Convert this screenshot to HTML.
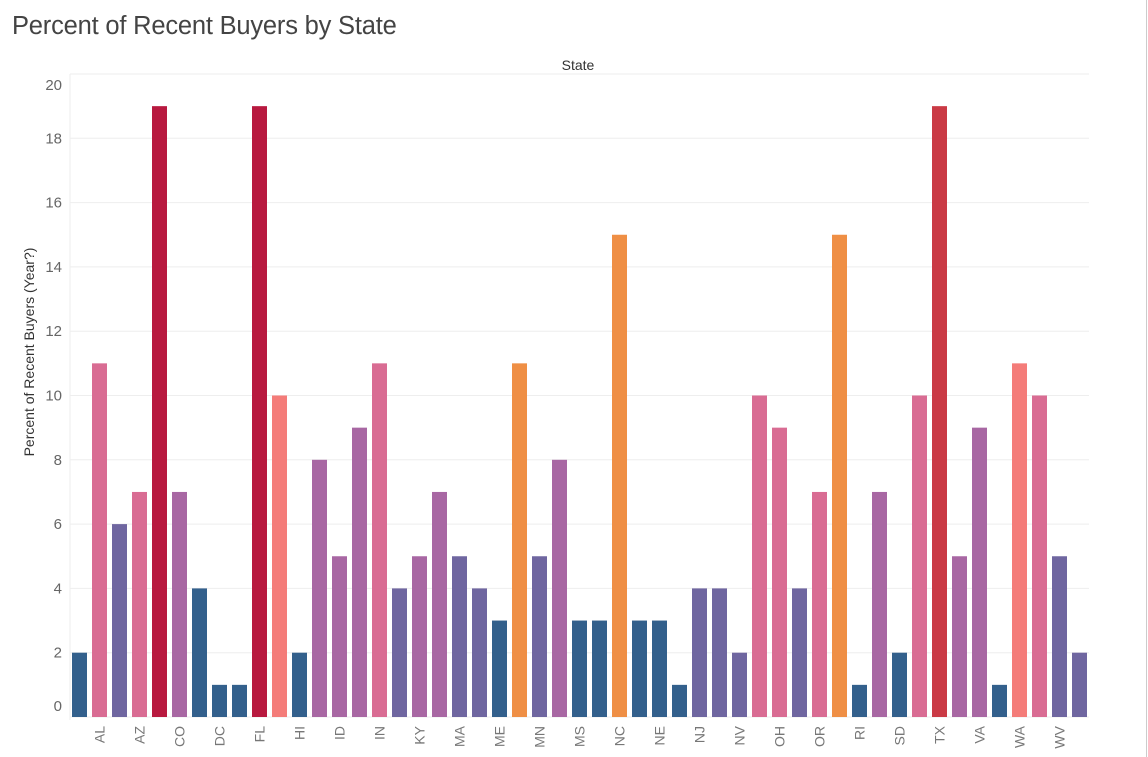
<!DOCTYPE html>
<html><head><meta charset="utf-8">
<style>
body{margin:0;background:#fff;width:1148px;height:757px;overflow:hidden;font-family:"Liberation Sans",sans-serif;}
#title{position:absolute;left:12px;top:12px;font-size:25.5px;color:#444;font-weight:300;letter-spacing:-0.2px;}
#edge{position:absolute;left:1146px;top:0;width:1px;height:757px;background:#ccc;}
</style></head><body>
<div id="title">Percent of Recent Buyers by State</div>
<div id="edge"></div>
<svg id="chart" width="1148" height="757" style="position:absolute;left:0;top:0"></svg>
<script>
const states=["AK","AL","AR","AZ","CA","CO","CT","DC","DE","FL","GA","HI","IA","ID","IL","IN","KS","KY","LA","MA","MD","ME","MI","MN","MO","MS","MT","NC","ND","NE","NH","NJ","NM","NV","NY","OH","OK","OR","PA","RI","SC","SD","TN","TX","UT","VA","VT","WA","WI","WV","WY"];
const values=[2,11,6,7,19,7,4,1,1,19,10,2,8,5,9,11,4,5,7,5,4,3,11,5,8,3,3,15,3,3,1,4,4,2,10,9,4,7,15,1,7,2,10,19,5,9,1,11,10,5,2];
const colorGroups=["b","p","i","p","c","m","b","b","b","c","s","b","m","m","m","p","i","m","m","i","i","b","o","i","m","b","b","o","b","b","b","i","i","i","p","p","i","p","o","b","m","b","p","r","m","m","b","s","p","i","i"];
const yTicks=[0,2,4,6,8,10,12,14,16,18,20];
const palette={b:"#33608c",p:"#d96c93",i:"#6f66a0",m:"#a867a3",c:"#b8193f",s:"#f47c79",o:"#ef8f45",r:"#ca3a45"};
const NS="http://www.w3.org/2000/svg";
const svg=document.getElementById("chart");
const x0=70,pitch=20,bw=15,yBase=717,pxPer=32.15;
const X=i=>x0+2+i*pitch;
const Y=v=>yBase-v*pxPer;
function mk(t,a,txt){const e=document.createElementNS(NS,t);for(const k in a)e.setAttribute(k,a[k]);if(txt!==undefined)e.textContent=txt;svg.appendChild(e);return e;}
yTicks.forEach(v=>{
  const g=mk("line",{x1:x0,x2:1089,y1:Y(v),y2:Y(v),stroke:"#eee","stroke-width":1});
  
  
  let ly=Y(v)+5; if(v===0) ly=Y(v)-6; if(v===20) ly=Y(v)+16;
  const t=mk("text",{x:62,y:ly,"text-anchor":"end","font-size":15,fill:"#666"},v);
  
  
});
const ax=mk("line",{x1:x0,x2:x0,y1:74,y2:720,stroke:"#eee"});


const st=mk("text",{x:578,y:70,"text-anchor":"middle","font-size":14,fill:"#333"},"State");


const yt=mk("text",{x:0,y:0,"text-anchor":"middle","font-size":14,fill:"#333",transform:"translate(34,352) rotate(-90)"},"Percent of Recent Buyers (Year?)");


values.forEach((v,i)=>{
  const r=mk("rect",{x:X(i),y:Y(v),width:bw,height:yBase-Y(v),fill:palette[colorGroups[i]]});
  
  
  if(i%2===1){
    const cx=X(i)+bw/2+5;
    const t=mk("text",{x:0,y:0,"text-anchor":"end","font-size":14,fill:"#777",transform:`translate(${cx},${yBase+9}) rotate(-90)`},states[i]);
    
    
  }
});
</script>
</body></html>
